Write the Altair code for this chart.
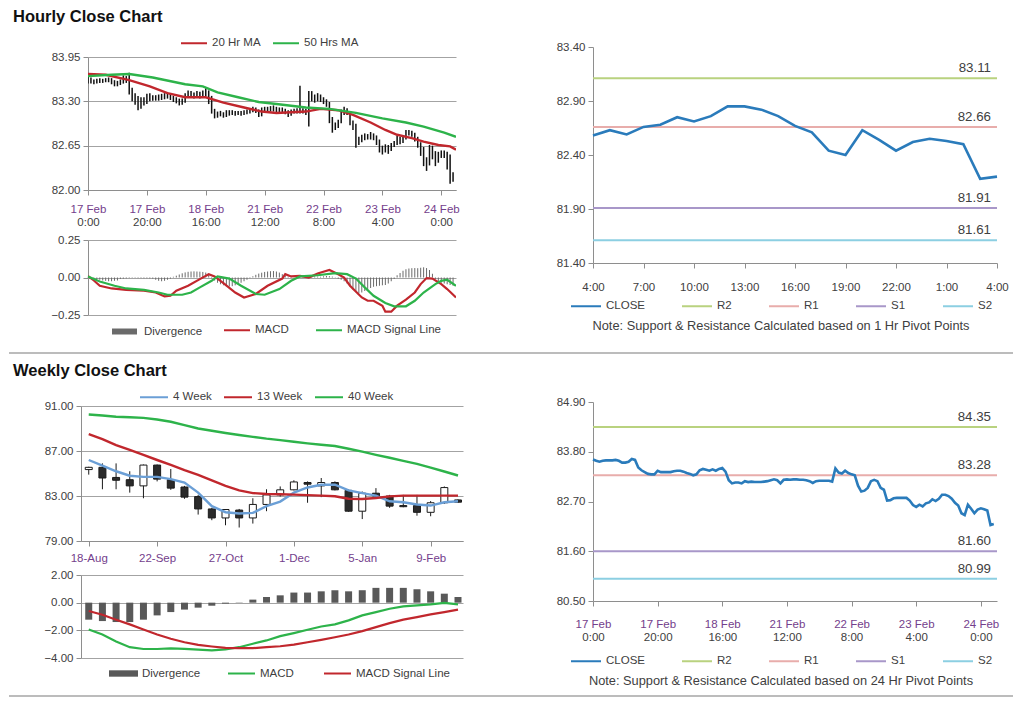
import json
import altair as alt
import pandas as pd

FONT = "Liberation Sans"
AXC = "#8e8e8e"
GRIDC = "#a3a3a3"
TXT = "#404040"
DATEC = "#74408c"
RED = "#c1272d"
GREEN = "#2db34a"
BLUE4 = "#6b9fd6"
CLOSEC = "#2a7bbb"
DIVC = "#6a6a6a"
PIV_NAMES = ["CLOSE", "R2", "R1", "S1", "S2"]
PIV_COLORS = [CLOSEC, "#b9d27f", "#e8adab", "#a897c9", "#8ccfe2"]
TICK_FS = 11.5
LEG_FS = 11.5

# ---------------- hourly data ----------------
h_close = [83.63, 83.60, 83.58, 83.60, 83.61, 83.61, 83.61, 83.62, 83.60, 83.56,
           83.56, 83.58, 83.64, 83.62, 83.45, 83.39, 83.35, 83.31, 83.30, 83.30,
           83.38, 83.35, 83.35, 83.35, 83.35, 83.37, 83.38, 83.38, 83.36, 83.33,
           83.31, 83.28, 83.30, 83.39, 83.42, 83.40, 83.38, 83.41, 83.38, 83.42,
           83.44, 83.36, 83.17, 83.10, 83.12, 83.12, 83.10, 83.15, 83.13, 83.14,
           83.13, 83.13, 83.13, 83.14, 83.15, 83.17, 83.19, 83.17, 83.10, 83.18,
           83.19, 83.18, 83.19, 83.19, 83.18, 83.18, 83.17, 83.15, 83.11, 83.15,
           83.16, 83.16, 83.16, 83.16, 83.14, 83.43, 83.34, 83.32, 83.38, 83.33,
           83.30, 83.28, 83.05, 82.92, 82.94, 83.00, 83.15, 83.18, 83.15, 83.00,
           82.96, 82.72, 82.73, 82.77, 82.78, 82.78, 82.78, 82.78, 82.72, 82.62,
           82.58, 82.63, 82.59, 82.66, 82.68, 82.75, 82.71, 82.76, 82.85, 82.85,
           82.82, 82.76, 82.67, 82.61, 82.44, 82.40, 82.63, 82.54, 82.44, 82.52,
           82.55, 82.53, 82.50, 82.18, 82.20]
h_high = [83.67, 83.65, 83.62, 83.63, 83.64, 83.63, 83.64, 83.65, 83.64, 83.61,
          83.60, 83.62, 83.68, 83.67, 83.72, 83.50, 83.42, 83.38, 83.36, 83.36,
          83.41, 83.42, 83.39, 83.39, 83.40, 83.41, 83.42, 83.43, 83.41, 83.38,
          83.36, 83.34, 83.34, 83.42, 83.46, 83.45, 83.43, 83.45, 83.44, 83.46,
          83.49, 83.46, 83.38, 83.19, 83.15, 83.16, 83.14, 83.17, 83.17, 83.17,
          83.16, 83.16, 83.16, 83.17, 83.18, 83.20, 83.22, 83.21, 83.18, 83.21,
          83.22, 83.22, 83.23, 83.24, 83.22, 83.21, 83.21, 83.19, 83.17, 83.18,
          83.19, 83.20, 83.53, 83.20, 83.19, 83.45, 83.45, 83.40, 83.42, 83.40,
          83.36, 83.33, 83.29, 83.07, 82.99, 83.03, 83.18, 83.22, 83.20, 83.16,
          83.02, 82.97, 82.78, 82.81, 82.83, 82.82, 82.85, 82.83, 82.80, 82.74,
          82.65, 82.67, 82.66, 82.69, 82.72, 82.80, 82.78, 82.80, 82.88, 82.88,
          82.87, 82.84, 82.78, 82.70, 82.63, 82.48, 82.66, 82.65, 82.57, 82.56,
          82.58, 82.58, 82.56, 82.52, 82.26]
h_low = [83.56, 83.56, 83.55, 83.56, 83.57, 83.57, 83.58, 83.58, 83.55, 83.52,
         83.52, 83.54, 83.56, 83.57, 83.40, 83.30, 83.25, 83.17, 83.19, 83.24,
         83.26, 83.30, 83.31, 83.31, 83.31, 83.32, 83.33, 83.34, 83.32, 83.29,
         83.27, 83.24, 83.25, 83.28, 83.36, 83.36, 83.34, 83.36, 83.34, 83.36,
         83.38, 83.26, 83.12, 83.05, 83.06, 83.08, 83.06, 83.07, 83.09, 83.10,
         83.09, 83.10, 83.09, 83.10, 83.11, 83.12, 83.14, 83.13, 83.07, 83.08,
         83.15, 83.14, 83.15, 83.15, 83.14, 83.14, 83.13, 83.11, 83.07, 83.09,
         83.12, 83.12, 83.12, 83.12, 83.10, 82.93, 83.30, 83.28, 83.30, 83.29,
         83.26, 83.22, 82.98, 82.84, 82.88, 82.91, 82.98, 83.10, 83.10, 82.95,
         82.88, 82.62, 82.66, 82.70, 82.73, 82.74, 82.74, 82.73, 82.66, 82.55,
         82.52, 82.55, 82.53, 82.57, 82.63, 82.66, 82.67, 82.69, 82.74, 82.80,
         82.78, 82.71, 82.62, 82.50, 82.35, 82.28, 82.36, 82.45, 82.35, 82.40,
         82.47, 82.47, 82.30, 82.09, 82.12]
h_ma20_i = [0, 6, 14, 21, 27, 33, 40, 46, 53, 59, 64, 74, 79, 85, 90, 96, 101, 105,
            110, 114, 119, 123, 125]
h_ma20 = [83.70, 83.69, 83.61, 83.52, 83.42, 83.36, 83.36, 83.28, 83.21, 83.15,
          83.13, 83.15, 83.19, 83.17, 83.10, 82.99, 82.88, 82.81, 82.76, 82.71,
          82.66, 82.64, 82.59]
h_ma50_i = [0, 8, 14, 22, 33, 39, 44, 51, 58, 64, 74, 82, 91, 100, 108, 114, 121, 125]
h_ma50 = [83.67, 83.69, 83.70, 83.65, 83.55, 83.52, 83.43, 83.36, 83.29, 83.26,
          83.21, 83.19, 83.13, 83.05, 82.99, 82.93, 82.84, 82.78]
h_div = [0.005, 0.0, -0.005, -0.01,
         -0.015, -0.02, -0.022, -0.025, -0.025, -0.022, -0.02,
         -0.01, -0.008, -0.006, -0.004, -0.003, -0.003, -0.004, -0.004, -0.005, -0.005, -0.006, -0.008,
         -0.015, -0.022, -0.025, -0.022, -0.015, -0.008,
         0.005, 0.012, 0.02, 0.028, 0.034, 0.038, 0.04, 0.041, 0.04, 0.039, 0.037, 0.033, 0.025,
         -0.005, -0.02, -0.035, -0.045, -0.052, -0.058, -0.06, -0.058, -0.052, -0.045, -0.035, -0.025, -0.015, -0.005,
         0.008, 0.018, 0.026, 0.032, 0.037, 0.04, 0.042, 0.043, 0.04, 0.033, 0.022,
         0.012, 0.006, 0.003, 0.002, 0.0, -0.003, 0.002, 0.01, 0.012, 0.01, 0.008, 0.006, 0.005, 0.008, 0.01, 0.009, 0.006, 0.002,
         -0.008, -0.015, -0.025, -0.04, -0.06, -0.08, -0.095, -0.105, -0.1, -0.09, -0.08, -0.07, -0.062, -0.058, -0.055, -0.052, -0.05, -0.04, -0.025, -0.01,
         0.015, 0.03, 0.045, 0.055, 0.06, 0.062, 0.063, 0.062, 0.065, 0.068, 0.063, 0.05, 0.025,
         -0.01, -0.025, -0.035, -0.04, -0.045, -0.05, -0.055]
h_macd_i = [0, 2, 4, 8, 13, 19, 23, 26, 28, 30, 34, 38, 41, 43, 46, 50, 53, 57, 61, 66,
            67, 69, 72, 75, 78, 82, 85, 87, 89, 93, 95, 97, 100, 101, 103, 105, 108, 111,
            113, 115, 117, 120, 122, 125]
h_macd = [0.01, -0.02, -0.055, -0.073, -0.082, -0.088, -0.10, -0.126, -0.122, -0.088,
          -0.055, -0.011, 0.022, 0.007, -0.038, -0.10, -0.133, -0.11, -0.055, -0.007,
          0.022, 0.007, 0.011, 0.0, 0.027, 0.05, 0.022, 0.0, -0.055, -0.133,
          -0.155, -0.155, -0.188, -0.228, -0.228, -0.188, -0.148, -0.10, -0.044, -0.004,
          -0.007, -0.044, -0.077, -0.133]
h_sig_i = [0, 4, 9, 13, 19, 24, 27, 32, 35, 38, 42, 44, 48, 52, 57, 60, 65, 69, 72, 78,
           84, 88, 91, 94, 97, 101, 104, 108, 111, 114, 118, 120, 122, 125]
h_sig = [0.007, -0.027, -0.055, -0.073, -0.082, -0.10, -0.115, -0.115, -0.10, -0.066,
         -0.022, 0.007, -0.007, -0.055, -0.11, -0.115, -0.077, -0.022, 0.007, 0.015,
         0.029, 0.022, -0.007, -0.066, -0.122, -0.17, -0.192, -0.192, -0.155, -0.10,
         -0.044, -0.022, -0.015, -0.055]
h_xdates = ["17 Feb", "17 Feb", "18 Feb", "21 Feb", "22 Feb", "23 Feb", "24 Feb"]
h_xtimes = ["0:00", "20:00", "16:00", "12:00", "8:00", "4:00", "0:00"]
H_STEP = 20
H_DOMAIN = [0, 125]
h_yticks = [82.00, 82.65, 83.30, 83.95]
h_mticks = [-0.25, 0.0, 0.25]

# last 25 hours (1 hr pivots)
p1_close = [82.58, 82.63, 82.59, 82.66, 82.68, 82.75, 82.71, 82.76, 82.85, 82.85,
            82.82, 82.76, 82.67, 82.61, 82.44, 82.40, 82.63, 82.54, 82.44, 82.52,
            82.55, 82.53, 82.50, 82.18, 82.20]
p1_levels = [83.11, 82.66, 81.91, 81.61]
p1_xlabels = ["4:00", "7:00", "10:00", "13:00", "16:00", "19:00", "22:00", "1:00", "4:00"]
P1_STEP = 3
p1_yticks = [81.40, 81.90, 82.40, 82.90, 83.40]

# ---------------- weekly data ----------------
w_open = [85.35, 85.55, 84.65, 84.45, 83.90, 85.75, 84.45, 83.80, 82.95, 81.85,
          81.05, 81.75, 81.05, 82.25, 83.10, 83.55, 84.20, 83.90, 84.20, 83.50,
          81.65, 83.25, 83.00, 82.15, 82.15, 81.55, 82.40, 82.65]
w_close = [85.55, 84.60, 84.40, 83.90, 85.75, 84.50, 83.70, 82.90, 81.85, 81.05,
           81.80, 81.05, 82.25, 83.10, 83.55, 84.25, 84.05, 84.20, 83.55, 81.65,
           83.25, 83.00, 82.10, 82.05, 81.55, 82.40, 83.75, 82.45]
w_high = [85.60, 85.90, 85.90, 85.20, 85.80, 85.80, 85.40, 83.90, 83.10, 81.95,
          81.80, 81.85, 82.80, 83.60, 83.85, 84.40, 84.30, 84.60, 84.30, 83.60,
          83.40, 83.70, 83.10, 83.10, 83.10, 82.55, 83.85, 82.70]
w_low = [84.90, 83.60, 83.60, 83.30, 82.80, 84.30, 83.55, 82.75, 81.35, 80.85,
         80.40, 80.20, 80.55, 81.65, 82.95, 83.50, 82.40, 82.90, 83.50, 81.60,
         80.95, 82.90, 81.95, 82.00, 81.25, 81.20, 82.30, 82.40]
w_ma4 = [86.20, 85.70, 85.20, 84.80, 84.70, 84.70, 84.50, 84.20, 83.30, 82.10,
         81.56, 81.44, 81.50, 82.10, 82.50, 83.30, 83.76, 84.00, 84.00, 83.50,
         83.26, 83.03, 82.53, 82.44, 82.24, 82.15, 82.44, 82.53]
w_ma13 = [88.50, 88.06, 87.53, 87.09, 86.65, 86.20, 85.76, 85.30, 84.88, 84.38,
          83.90, 83.50, 83.26, 83.18, 83.15, 83.12, 83.08, 83.03, 82.98, 82.76,
          82.74, 82.82, 82.97, 83.03, 83.03, 83.03, 83.03, 83.03]
w_ma40 = [90.24, 90.15, 90.05, 90.00, 89.94, 89.80, 89.60, 89.30, 89.00, 88.80,
          88.60, 88.42, 88.26, 88.10, 87.97, 87.82, 87.68, 87.56, 87.44, 87.20,
          86.94, 86.66, 86.40, 86.12, 85.85, 85.52, 85.18, 84.82]
w_div = [-1.23, -1.33, -1.40, -1.40, -1.23, -0.92, -0.68, -0.50, -0.36, -0.22,
         -0.07, -0.02, 0.22, 0.41, 0.53, 0.73, 0.73, 0.82, 0.90, 0.82,
         0.90, 1.07, 1.07, 1.07, 0.97, 0.82, 0.65, 0.41]
w_macd = [-1.94, -2.30, -2.80, -3.22, -3.35, -3.35, -3.30, -3.34, -3.39, -3.45,
          -3.37, -3.22, -2.97, -2.73, -2.42, -2.20, -1.96, -1.72, -1.57, -1.28,
          -0.92, -0.68, -0.44, -0.27, -0.19, -0.12, -0.02, -0.12]
w_sig = [-0.60, -0.87, -1.23, -1.57, -1.94, -2.30, -2.61, -2.86, -3.05, -3.17,
         -3.27, -3.29, -3.29, -3.22, -3.15, -3.03, -2.86, -2.69, -2.50, -2.30,
         -2.06, -1.77, -1.48, -1.23, -1.04, -0.85, -0.68, -0.50]
w_xlabels = ["18-Aug", "22-Sep", "27-Oct", "1-Dec", "5-Jan", "9-Feb"]
W_STEP = 5
W_DOMAIN = [-0.2, 27.0]
w_yticks = [79.0, 83.0, 87.0, 91.0]
w_mticks = [-4.0, -2.0, 0.0, 2.0]

# 24 hr pivots
p2_levels = [84.35, 83.28, 81.60, 80.99]
p2_yticks = [80.50, 81.60, 82.70, 83.80, 84.90]

NOTE1 = "Note: Support & Resistance Calculated based on 1 Hr Pivot Points"
NOTE2 = "Note: Support & Resistance Calculated based on 24 Hr Pivot Points"


# ---------------- helpers ----------------
def x_axis(values, labels, step, color, pad, hidden=False):
    extra = dict(domainOpacity=0, tickOpacity=0) if hidden else {}
    return alt.Axis(values=values, tickCount=len(values), orient="bottom",
                    labelExpr=f"{json.dumps(labels)}[round(datum.value/{step})]",
                    grid=False, domainColor=AXC, tickColor=AXC, tickSize=5,
                    labelFont=FONT, labelFontSize=TICK_FS, labelColor=color,
                    labelPadding=pad, labelFlush=False, labelOverlap=False,
                    title=None, **extra)


def y_axis(values, grid, min_extent):
    return alt.Axis(values=values, tickCount=len(values), format=".2f", grid=grid,
                    gridColor=GRIDC, domainColor=AXC, tickColor=AXC, tickSize=5,
                    labelFont=FONT, labelFontSize=TICK_FS, labelColor=TXT,
                    labelPadding=3, labelOverlap=False, minExtent=min_extent, title=None)


def leg(x, y, pad, symbol="stroke", size=729, sw=2.0, **kw):
    return alt.Legend(orient="none", legendX=x, legendY=y, direction="horizontal",
                      symbolType=symbol, symbolSize=size, symbolStrokeWidth=sw,
                      labelFont=FONT, labelFontSize=LEG_FS, labelColor=TXT,
                      columnPadding=pad, labelOffset=4, **kw)


def series(names, xs_list, vs_list):
    rows = []
    for n, xs, vs in zip(names, xs_list, vs_list):
        for x, v in zip(xs, vs):
            rows.append({"i": x, "v": v, "s": n})
    return pd.DataFrame(rows)


LINE_H = 13.5

# ---------------- hourly price ----------------
hx_scale = alt.Scale(domain=H_DOMAIN, nice=False, zero=False)
hy_scale = alt.Scale(domain=[h_yticks[0], h_yticks[-1]], nice=False, zero=False)
df_h = pd.DataFrame({"i": list(range(len(h_close))), "close": h_close,
                     "high": h_high, "low": h_low})
h_vals = [k * H_STEP for k in range(len(h_xdates))]

h_bars = alt.Chart(df_h).mark_rule(color="#111111", strokeWidth=1.5, clip=True).encode(
    x=alt.X("i:Q", scale=hx_scale, axis=x_axis(h_vals, h_xdates, H_STEP, DATEC, 8.25)),
    y=alt.Y("low:Q", scale=hy_scale, axis=y_axis(h_yticks, True, 78)),
    y2="high:Q",
)
df_hma = series(["20 Hr MA", "50 Hrs MA"], [h_ma20_i, h_ma50_i], [h_ma20, h_ma50])
h_ma = alt.Chart(df_hma).mark_line(strokeWidth=2.4, clip=True).encode(
    x=alt.X("i:Q", scale=hx_scale, axis=x_axis(h_vals, h_xtimes, H_STEP, TXT, 8.25 + LINE_H, True)),
    y=alt.Y("v:Q", scale=hy_scale),
    color=alt.Color("s:N", scale=alt.Scale(domain=["20 Hr MA", "50 Hrs MA"], range=[RED, GREEN]),
                    legend=leg(92, -28, 8, size=676, title=None)),
)
price1 = alt.layer(h_bars, h_ma).resolve_axis(x="independent").properties(width=368, height=133)

# ---------------- hourly MACD ----------------
hm_scale = alt.Scale(domain=[h_mticks[0], h_mticks[-1]], nice=False, zero=False)
df_hd = pd.DataFrame({"i": list(range(len(h_div))), "div": h_div, "d": "Divergence"})
h_divbars = alt.Chart(df_hd).mark_rule(strokeWidth=1).encode(
    x=alt.X("i:Q", scale=hx_scale, axis=None),
    y=alt.Y("div:Q", scale=hm_scale, axis=y_axis(h_mticks, True, 78)),
    y2=alt.datum(0),
    stroke=alt.Stroke("d:N", scale=alt.Scale(domain=["Divergence"], range=[DIVC]),
                      legend=leg(21, 76, 20, size=625, sw=6, title=None)),
)
df_hm = series(["MACD", "MACD Signal Line"], [h_macd_i, h_sig_i], [h_macd, h_sig])
h_mlines = alt.Chart(df_hm).mark_line(strokeWidth=2.2, clip=True).encode(
    x=alt.X("i:Q", scale=hx_scale),
    y=alt.Y("v:Q", scale=hm_scale),
    color=alt.Color("s:N", scale=alt.Scale(domain=["MACD", "MACD Signal Line"], range=[RED, GREEN]),
                    legend=leg(135, 76, 23, size=676, title=None)),
)
macd1 = alt.layer(h_divbars, h_mlines).properties(width=368, height=75).resolve_scale(
    color="independent", stroke="independent")


# ---------------- pivot charts ----------------
def pivot_chart(close, levels, xlab1, xlab2, step, xdomain, xcolor, yticks, note, min_extent,
                height, pad):
    n = len(close)
    xs = alt.Scale(domain=xdomain, nice=False, zero=False)
    ys = alt.Scale(domain=[yticks[0], yticks[-1]], nice=False, zero=False)
    cscale = alt.Scale(domain=PIV_NAMES, range=PIV_COLORS)
    lg = leg(-23, 243, 33, size=900, sw=2, title=note, titleOrient="bottom",
             titleAnchor="middle", titleFont=FONT, titleFontSize=12.8, titleFontWeight="normal",
             titleColor=TXT, titleLimit=700, titlePadding=7.5)
    vals = [k * step for k in range(len(xlab1))]
    df_c = pd.DataFrame({"i": list(range(n)), "v": close, "name": "CLOSE"})
    df_l = pd.DataFrame({"name": PIV_NAMES[1:], "v": levels, "x": xdomain[1]})
    rules = alt.Chart(df_l).mark_rule(strokeWidth=2).encode(
        y=alt.Y("v:Q", scale=ys, axis=y_axis(yticks, False, min_extent)),
        color=alt.Color("name:N", scale=cscale, legend=lg),
    )
    if xlab2:
        text_x = alt.X("x:Q", scale=xs, axis=x_axis(vals, xlab2, step, TXT, pad + LINE_H, True))
    else:
        text_x = alt.X("x:Q", scale=xs)
    labels = alt.Chart(df_l).mark_text(align="right", baseline="bottom", dx=-6, dy=-3,
                                       font=FONT, fontSize=13.3, color=TXT).encode(
        x=text_x,
        y=alt.Y("v:Q", scale=ys),
        text=alt.Text("v:Q", format=".2f"),
    )
    line = alt.Chart(df_c).mark_line(strokeWidth=2.6).encode(
        x=alt.X("i:Q", scale=xs, axis=x_axis(vals, xlab1, step, xcolor, pad)),
        y=alt.Y("v:Q", scale=ys, axis=y_axis(yticks, False, min_extent)),
        color=alt.Color("name:N", scale=cscale, legend=lg),
    )
    ch = alt.layer(rules, labels, line)
    if xlab2:
        ch = ch.resolve_axis(x="independent")
    return ch.properties(width=404, height=height)


pivot1 = pivot_chart(p1_close, p1_levels, p1_xlabels, None, P1_STEP, [0, len(p1_close) - 1], TXT,
                     p1_yticks, NOTE1, 133, 216, 13.25)
pivot2 = pivot_chart(h_close, p2_levels, h_xdates, h_xtimes, H_STEP, H_DOMAIN, DATEC,
                     p2_yticks, NOTE2, 130, 199, 12)

# ---------------- weekly price ----------------
wx_scale = alt.Scale(domain=W_DOMAIN, nice=False, zero=False)
wy_scale = alt.Scale(domain=[w_yticks[0], w_yticks[-1]], nice=False, zero=False)
df_w = pd.DataFrame({"i": list(range(len(w_open))), "open": w_open, "close": w_close,
                     "high": w_high, "low": w_low})
w_vals = [k * W_STEP for k in range(len(w_xlabels))]
w_wicks = alt.Chart(df_w).mark_rule(color="#1a1a1a", strokeWidth=1, clip=True).encode(
    x=alt.X("i:Q", scale=wx_scale, axis=x_axis(w_vals, w_xlabels, W_STEP, DATEC, 6.5)),
    y=alt.Y("low:Q", scale=wy_scale, axis=y_axis(w_yticks, True, 71)),
    y2="high:Q",
)
w_bodies = alt.Chart(df_w).mark_bar(size=7, stroke="#1a1a1a", strokeWidth=1, clip=True).encode(
    x=alt.X("i:Q", scale=wx_scale),
    y=alt.Y("open:Q", scale=wy_scale),
    y2="close:Q",
    fill=alt.condition("datum.open > datum.close", alt.value("#2b2b2b"), alt.value("white")),
)
idx_w = list(range(len(w_ma4)))
df_wma = series(["4 Week", "13 Week", "40 Week"], [idx_w, idx_w, idx_w], [w_ma4, w_ma13, w_ma40])
w_ma = alt.Chart(df_wma).mark_line(strokeWidth=2.4, clip=True).encode(
    x=alt.X("i:Q", scale=wx_scale),
    y=alt.Y("v:Q", scale=wy_scale),
    color=alt.Color("s:N", scale=alt.Scale(domain=["4 Week", "13 Week", "40 Week"],
                                           range=[BLUE4, RED, GREEN]),
                    legend=leg(58, -24, 8, size=784, title=None)),
)
price2 = alt.layer(w_wicks, w_bodies, w_ma).properties(width=382, height=135)

# ---------------- weekly MACD ----------------
wm_scale = alt.Scale(domain=[w_mticks[0], w_mticks[-1]], nice=False, zero=False)
df_wd = pd.DataFrame({"i": idx_w, "div": w_div, "d": "Divergence"})
w_divbars = alt.Chart(df_wd).mark_bar(size=7, clip=True).encode(
    x=alt.X("i:Q", scale=wx_scale, axis=None),
    y=alt.Y("div:Q", scale=wm_scale, axis=y_axis(w_mticks, True, 71)),
    y2=alt.datum(0),
    fill=alt.Fill("d:N", scale=alt.Scale(domain=["Divergence"], range=["#595959"]),
                  legend=leg(28, 84, 20, symbol="M-1,-0.22H1V0.22H-1Z", size=841, sw=0, title=None)),
)
df_wm = series(["MACD", "MACD Signal Line"], [idx_w, idx_w], [w_macd, w_sig])
w_mlines = alt.Chart(df_wm).mark_line(strokeWidth=2.2, clip=True).encode(
    x=alt.X("i:Q", scale=wx_scale),
    y=alt.Y("v:Q", scale=wm_scale),
    color=alt.Color("s:N", scale=alt.Scale(domain=["MACD", "MACD Signal Line"], range=[GREEN, RED]),
                    legend=leg(146, 84, 26, size=729, title=None)),
)
macd2 = alt.layer(w_divbars, w_mlines).properties(width=382, height=83).resolve_scale(
    color="independent", fill="independent")

# ---------------- layout ----------------
RES = dict(color="independent", stroke="independent", fill="independent")
DUMMY = pd.DataFrame({"a": [0]})


def spacer(h, w=1):
    return alt.Chart(DUMMY).mark_rule(opacity=0).encode(
        x=alt.value(0), y=alt.value(0), y2=alt.value(h)).properties(width=w, height=h)


def sep(h, y):
    return alt.Chart(DUMMY).mark_rule(color="#a6a6a6", strokeWidth=1.5).encode(
        x=alt.value(0), x2=alt.value(1004), y=alt.value(y)).properties(width=1004, height=h)


def title(t, off):
    return alt.TitleParams(t, anchor="start", fontSize=16.5, font=FONT, fontWeight="bold",
                           color="#111111", offset=off, dx=4)


def row(price, macd, pivot, inner_sp, piv_top, ttl, off):
    left = alt.vconcat(
        spacer(1),
        alt.vconcat(price, macd, spacing=inner_sp).resolve_scale(**RES),
        spacing=0).resolve_scale(**RES)
    pcol = alt.vconcat(spacer(piv_top), pivot, spacing=0).resolve_scale(**RES)
    return alt.hconcat(spacer(1), left, pcol, spacing=0).resolve_scale(**RES).properties(
        title=title(ttl, off))


row1 = row(price1, macd1, pivot1, 5, 12.7, "Hourly Close Chart", 2.5)
row2 = row(price2, macd2, pivot2, 5, 14.7, "Weekly Close Chart", 2)

chart = alt.vconcat(row1, sep(18, 9), row2, sep(9, 8), spacing=0).resolve_scale(**RES).properties(
    padding={"top": 1, "left": 0, "right": 0, "bottom": 0}, background="white").configure_view(stroke=None)

chart.save("out.html", embed_options={"renderer": "svg", "actions": False})
